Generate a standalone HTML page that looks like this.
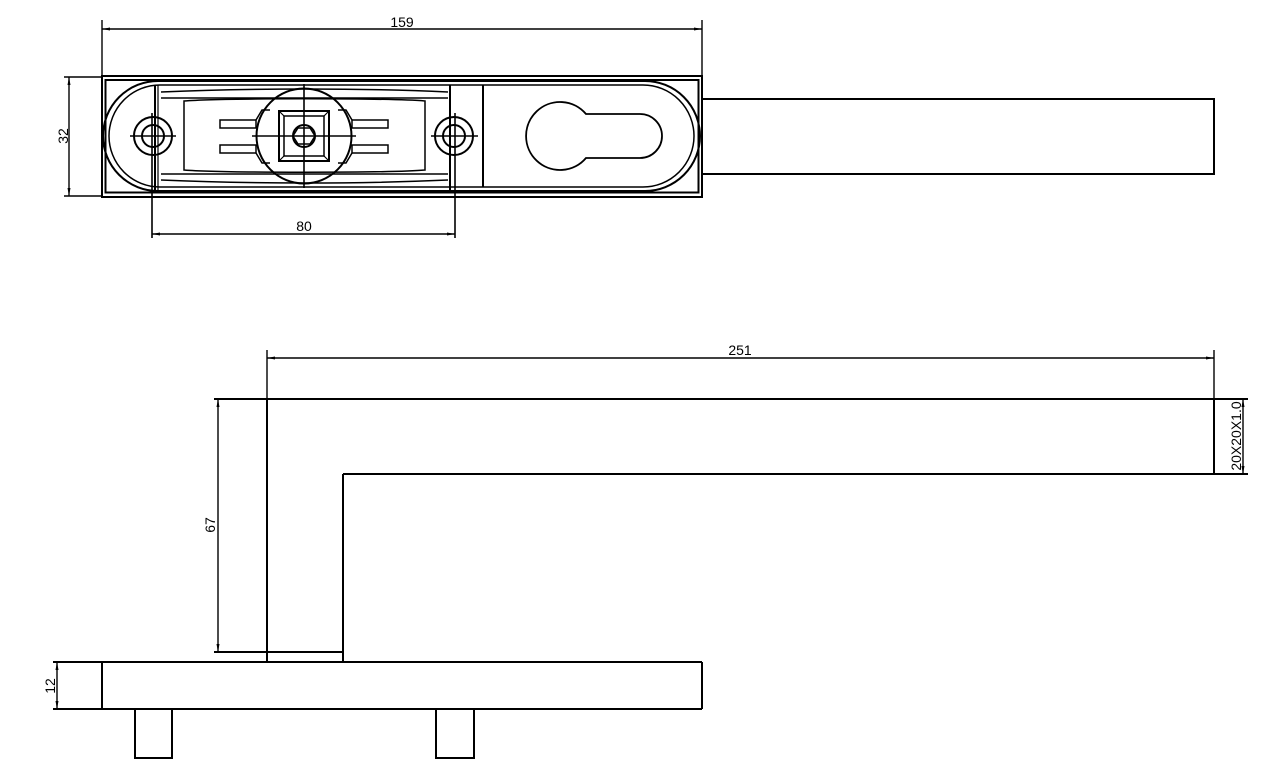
<!DOCTYPE html>
<html><head><style>html,body{margin:0;padding:0;background:#fff}svg{display:block}</style></head><body>
<svg width="1285" height="777" viewBox="0 0 1285 777" xmlns="http://www.w3.org/2000/svg" font-family="Liberation Sans, sans-serif" font-size="14">
<defs><marker id="a" markerWidth="8" markerHeight="6" refX="8" refY="3" orient="auto-start-reverse" markerUnits="userSpaceOnUse"><path d="M0,1.5 L8,3 L0,4.5z" fill="#000"/></marker></defs>
<g stroke="#000" fill="none" stroke-width="2">
<!-- top view -->
<line x1="102" y1="20" x2="102" y2="77" stroke-width="1.4"/><line x1="702" y1="20" x2="702" y2="77" stroke-width="1.4"/>
<line x1="102" y1="29" x2="702" y2="29" stroke-width="1.4" marker-start="url(#a)" marker-end="url(#a)"/>
<line x1="64" y1="77" x2="102" y2="77" stroke-width="1.4"/><line x1="64" y1="196" x2="102" y2="196" stroke-width="1.4"/>
<line x1="69" y1="77" x2="69" y2="196" stroke-width="1.4" marker-start="url(#a)" marker-end="url(#a)"/>
<rect x="102" y="76" width="600" height="121"/>
<rect x="105.5" y="80" width="593" height="112.5"/>
<path d="M158,81 H645 A55,55 0 0 1 645,191 H158 A55,55 0 0 1 158,81 Z"/>
<path d="M160,85 H643 A51,51 0 0 1 643,187 H160 A51,51 0 0 1 160,85 Z" stroke-width="1.5"/>
<line x1="155" y1="85" x2="155" y2="190"/><line x1="158" y1="85" x2="158" y2="190" stroke-width="1.2"/>
<line x1="450" y1="85" x2="450" y2="190"/><line x1="483" y1="85" x2="483" y2="187"/>
<!-- inner tray -->
<path d="M161,92 C250,88 360,88 448,92" stroke-width="1.5"/><path d="M161,98 H448" stroke-width="1.5"/>
<path d="M161,180 C250,184 360,184 448,180" stroke-width="1.5"/><path d="M161,174 H448" stroke-width="1.5"/>
<path d="M184,101 C220,98 390,98 425,101 V170 C390,173 220,173 184,170 Z" stroke-width="1.5"/>
<rect x="220" y="120" width="36" height="8" stroke-width="1.5"/><rect x="220" y="145" width="36" height="8" stroke-width="1.5"/>
<rect x="352" y="120" width="36" height="8" stroke-width="1.5"/><rect x="352" y="145" width="36" height="8" stroke-width="1.5"/>
<path d="M256,120 L262,110 H270 M256,153 L262,163 H270 M352,120 L346,110 H338 M352,153 L346,163 H338" stroke-width="1.5"/>
<circle cx="304" cy="136" r="47.5"/>
<rect x="279" y="111" width="50" height="50"/><rect x="284" y="116" width="40" height="40" stroke-width="1.5"/>
<path d="M279,111 L284,116 M329,111 L324,116 M279,161 L284,156 M329,161 L324,156" stroke-width="1.2"/>
<circle cx="304" cy="136" r="11"/><path d="M298,128 H310 L315,136 L310,144 H298 L293,136 Z" stroke-width="1.4"/>
<line x1="304" y1="84" x2="304" y2="188" stroke-width="1.6"/><line x1="252" y1="136" x2="356" y2="136" stroke-width="1.6"/>
<circle cx="153" cy="136" r="19"/><circle cx="153" cy="136" r="11"/>
<circle cx="454" cy="136" r="19"/><circle cx="454" cy="136" r="11"/>
<line x1="130" y1="136" x2="176" y2="136" stroke-width="1.6"/><line x1="431" y1="136" x2="478" y2="136" stroke-width="1.6"/>
<line x1="152" y1="113" x2="152" y2="238" stroke-width="1.6"/><line x1="455" y1="113" x2="455" y2="238" stroke-width="1.6"/>
<line x1="152" y1="234" x2="455" y2="234" stroke-width="1.4" marker-start="url(#a)" marker-end="url(#a)"/>
<path d="M586,114 H640 A22,22 0 0 1 640,158 H586 A34,34 0 1 1 586,114 Z" stroke-width="1.8"/>
<rect x="702" y="99" width="512" height="75"/>
<!-- side view -->
<line x1="267" y1="350" x2="267" y2="399" stroke-width="1.4"/><line x1="1214" y1="350" x2="1214" y2="399" stroke-width="1.4"/>
<line x1="267" y1="358" x2="1214" y2="358" stroke-width="1.4" marker-start="url(#a)" marker-end="url(#a)"/>
<line x1="214" y1="399" x2="1248" y2="399"/><line x1="343" y1="474" x2="1248" y2="474"/>
<line x1="1214" y1="399" x2="1214" y2="474"/>
<line x1="267" y1="399" x2="267" y2="662"/><line x1="343" y1="474" x2="343" y2="662"/>
<line x1="214" y1="652" x2="343" y2="652"/>
<line x1="218" y1="399" x2="218" y2="652" stroke-width="1.4" marker-start="url(#a)" marker-end="url(#a)"/>
<line x1="1243" y1="399" x2="1243" y2="474" stroke-width="1.4" marker-start="url(#a)" marker-end="url(#a)"/>
<line x1="53" y1="662" x2="702" y2="662"/><line x1="53" y1="709" x2="702" y2="709"/>
<line x1="702" y1="662" x2="702" y2="709"/><line x1="102" y1="662" x2="102" y2="709"/>
<line x1="57" y1="662" x2="57" y2="709" stroke-width="1.4" marker-start="url(#a)" marker-end="url(#a)"/>
<path d="M135,709 V758 H172 V709"/><path d="M436,709 V758 H474 V709"/>
</g>
<g fill="#000" text-anchor="middle">
<text x="402" y="27">159</text>
<text x="304" y="231">80</text>
<text transform="translate(68,136) rotate(-90)">32</text>
<text x="740" y="355">251</text>
<text transform="translate(215,525) rotate(-90)">67</text>
<text transform="translate(1241,436) rotate(-90)">20X20X1.0</text>
<text transform="translate(55,686) rotate(-90)">12</text>
</g>
</svg>
</body></html>
